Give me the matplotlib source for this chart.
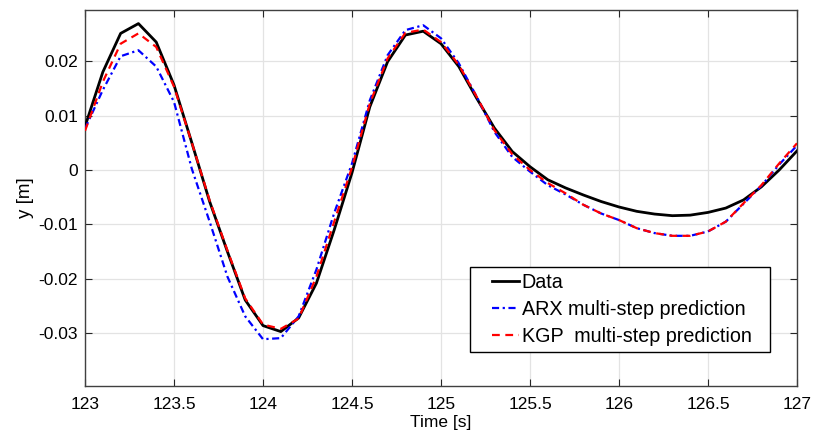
import numpy as np
import matplotlib
matplotlib.use("Agg")
import matplotlib.pyplot as plt
from matplotlib.lines import Line2D
from matplotlib.legend_handler import HandlerLine2D

plt.rcParams['font.family'] = ['Liberation Sans', 'DejaVu Sans']
plt.rcParams['axes.unicode_minus'] = False

time = [123.0 + 0.1 * i for i in range(41)]

data = [0.0080, 0.0180, 0.0251, 0.0269, 0.0235, 0.0156, 0.0050, -0.0058, -0.0150, -0.0239,
        -0.0286, -0.0297, -0.0272, -0.0208, -0.0110, -0.0005, 0.0116, 0.0199, 0.0248, 0.0255,
        0.0232, 0.0190, 0.0132, 0.0077, 0.0034, 0.0006, -0.0018, -0.0033, -0.0046, -0.0058,
        -0.0068, -0.0076, -0.0081, -0.0084, -0.0083, -0.0078, -0.0070, -0.0055, -0.0031, 0.0000,
        0.0035]

arx = [0.0076, 0.0147, 0.0209, 0.0220, 0.0190, 0.0125, 0.0002, -0.0095, -0.0196, -0.0269,
       -0.0311, -0.0309, -0.0269, -0.0183, -0.0079, 0.0012, 0.0128, 0.0211, 0.0257, 0.0266,
       0.0242, 0.0196, 0.0135, 0.0070, 0.0024, -0.0003, -0.0028, -0.0045, -0.0064, -0.0080,
       -0.0092, -0.0107, -0.0116, -0.0121, -0.0121, -0.0113, -0.0095, -0.0062, -0.0029, 0.0010,
       0.0045]

kgp = [0.0072, 0.0162, 0.0232, 0.0251, 0.0226, 0.0153, 0.0050, -0.0056, -0.0148, -0.0236,
       -0.0284, -0.0292, -0.0273, -0.0196, -0.0095, 0.0005, 0.0122, 0.0205, 0.0252, 0.0258,
       0.0235, 0.0193, 0.0135, 0.0073, 0.0029, 0.0000, -0.0024, -0.0043, -0.0064, -0.0080,
       -0.0092, -0.0107, -0.0116, -0.0121, -0.0121, -0.0113, -0.0095, -0.0061, -0.0028, 0.0012,
       0.0049]

xticks = [123, 123.5, 124, 124.5, 125, 125.5, 126, 126.5, 127]
xticklabels = ['123', '123.5', '124', '124.5', '125', '125.5', '126', '126.5', '127']
yticks = [-0.03, -0.02, -0.01, 0, 0.01, 0.02]
yticklabels = ['-0.03', '-0.02', '-0.01', '0', '0.01', '0.02']


class RightLineHandler(HandlerLine2D):
    """Legend line drawn only in the right part of the handle area (MATLAB style)."""
    def create_artists(self, legend, orig_handle, xdescent, ydescent, width, height,
                       fontsize, trans):
        artists = super().create_artists(legend, orig_handle, xdescent, ydescent,
                                         width, height, fontsize, trans)
        for a in artists:
            if isinstance(a, Line2D):
                xd = np.asarray(a.get_xdata(), dtype=float)
                if xd.size >= 2:
                    x0, x1 = xd[0], xd[-1]
                    a.set_xdata(np.linspace(x0 + 0.36 * (x1 - x0), x1, xd.size))
        return artists


fig = plt.figure(figsize=(8.13, 4.40), dpi=100)
ax = fig.add_axes([0.1046, 0.1227, 0.8757, 0.8546])

ax.plot(time, data, color='black', lw=2.0, label='Data', zorder=3)
ax.plot(time, arx, color='#0000ff', lw=1.6, ls=(0, (3.2, 1.6, 1, 1.6)), label='ARX multi-step prediction', zorder=4)
ax.plot(time, kgp, color='#ff0000', lw=1.6, ls=(0, (3.5, 2.5)), label='KGP  multi-step prediction', zorder=5)

ax.set_xlim(123, 127)
ax.set_ylim(-0.0397, 0.0294)
ax.set_xticks(xticks)
ax.set_xticklabels(xticklabels)
ax.set_yticks(yticks)
ax.set_yticklabels(yticklabels)
ax.grid(True, color='#e3e3e3', lw=0.9)
ax.set_axisbelow(True)
ax.tick_params(direction='in', length=5, width=0.8, color='#262626', labelsize=12.5,
               top=True, right=True, labelcolor='black')
ax.tick_params(axis='x', pad=8)
ax.tick_params(axis='y', pad=5)
for s in ax.spines.values():
    s.set_color('#404040')
    s.set_linewidth(1.0)

ax.set_xlabel('Time [s]', fontsize=12.5, labelpad=2)
ax.set_ylabel('y [m]', fontsize=13.5, labelpad=3)

leg = ax.legend(loc='upper left', bbox_to_anchor=(0.5407, 0.0957, 0.4213, 0.22),
                mode='expand', fontsize=14.2,
                frameon=True, fancybox=False, edgecolor='black', framealpha=1,
                handlelength=2.2, handletextpad=0.12, borderpad=0.3, labelspacing=0.41,
                borderaxespad=0, handler_map={Line2D: RightLineHandler()})
leg.get_frame().set_linewidth(1.0)

fig.savefig('out.png', dpi=100)
